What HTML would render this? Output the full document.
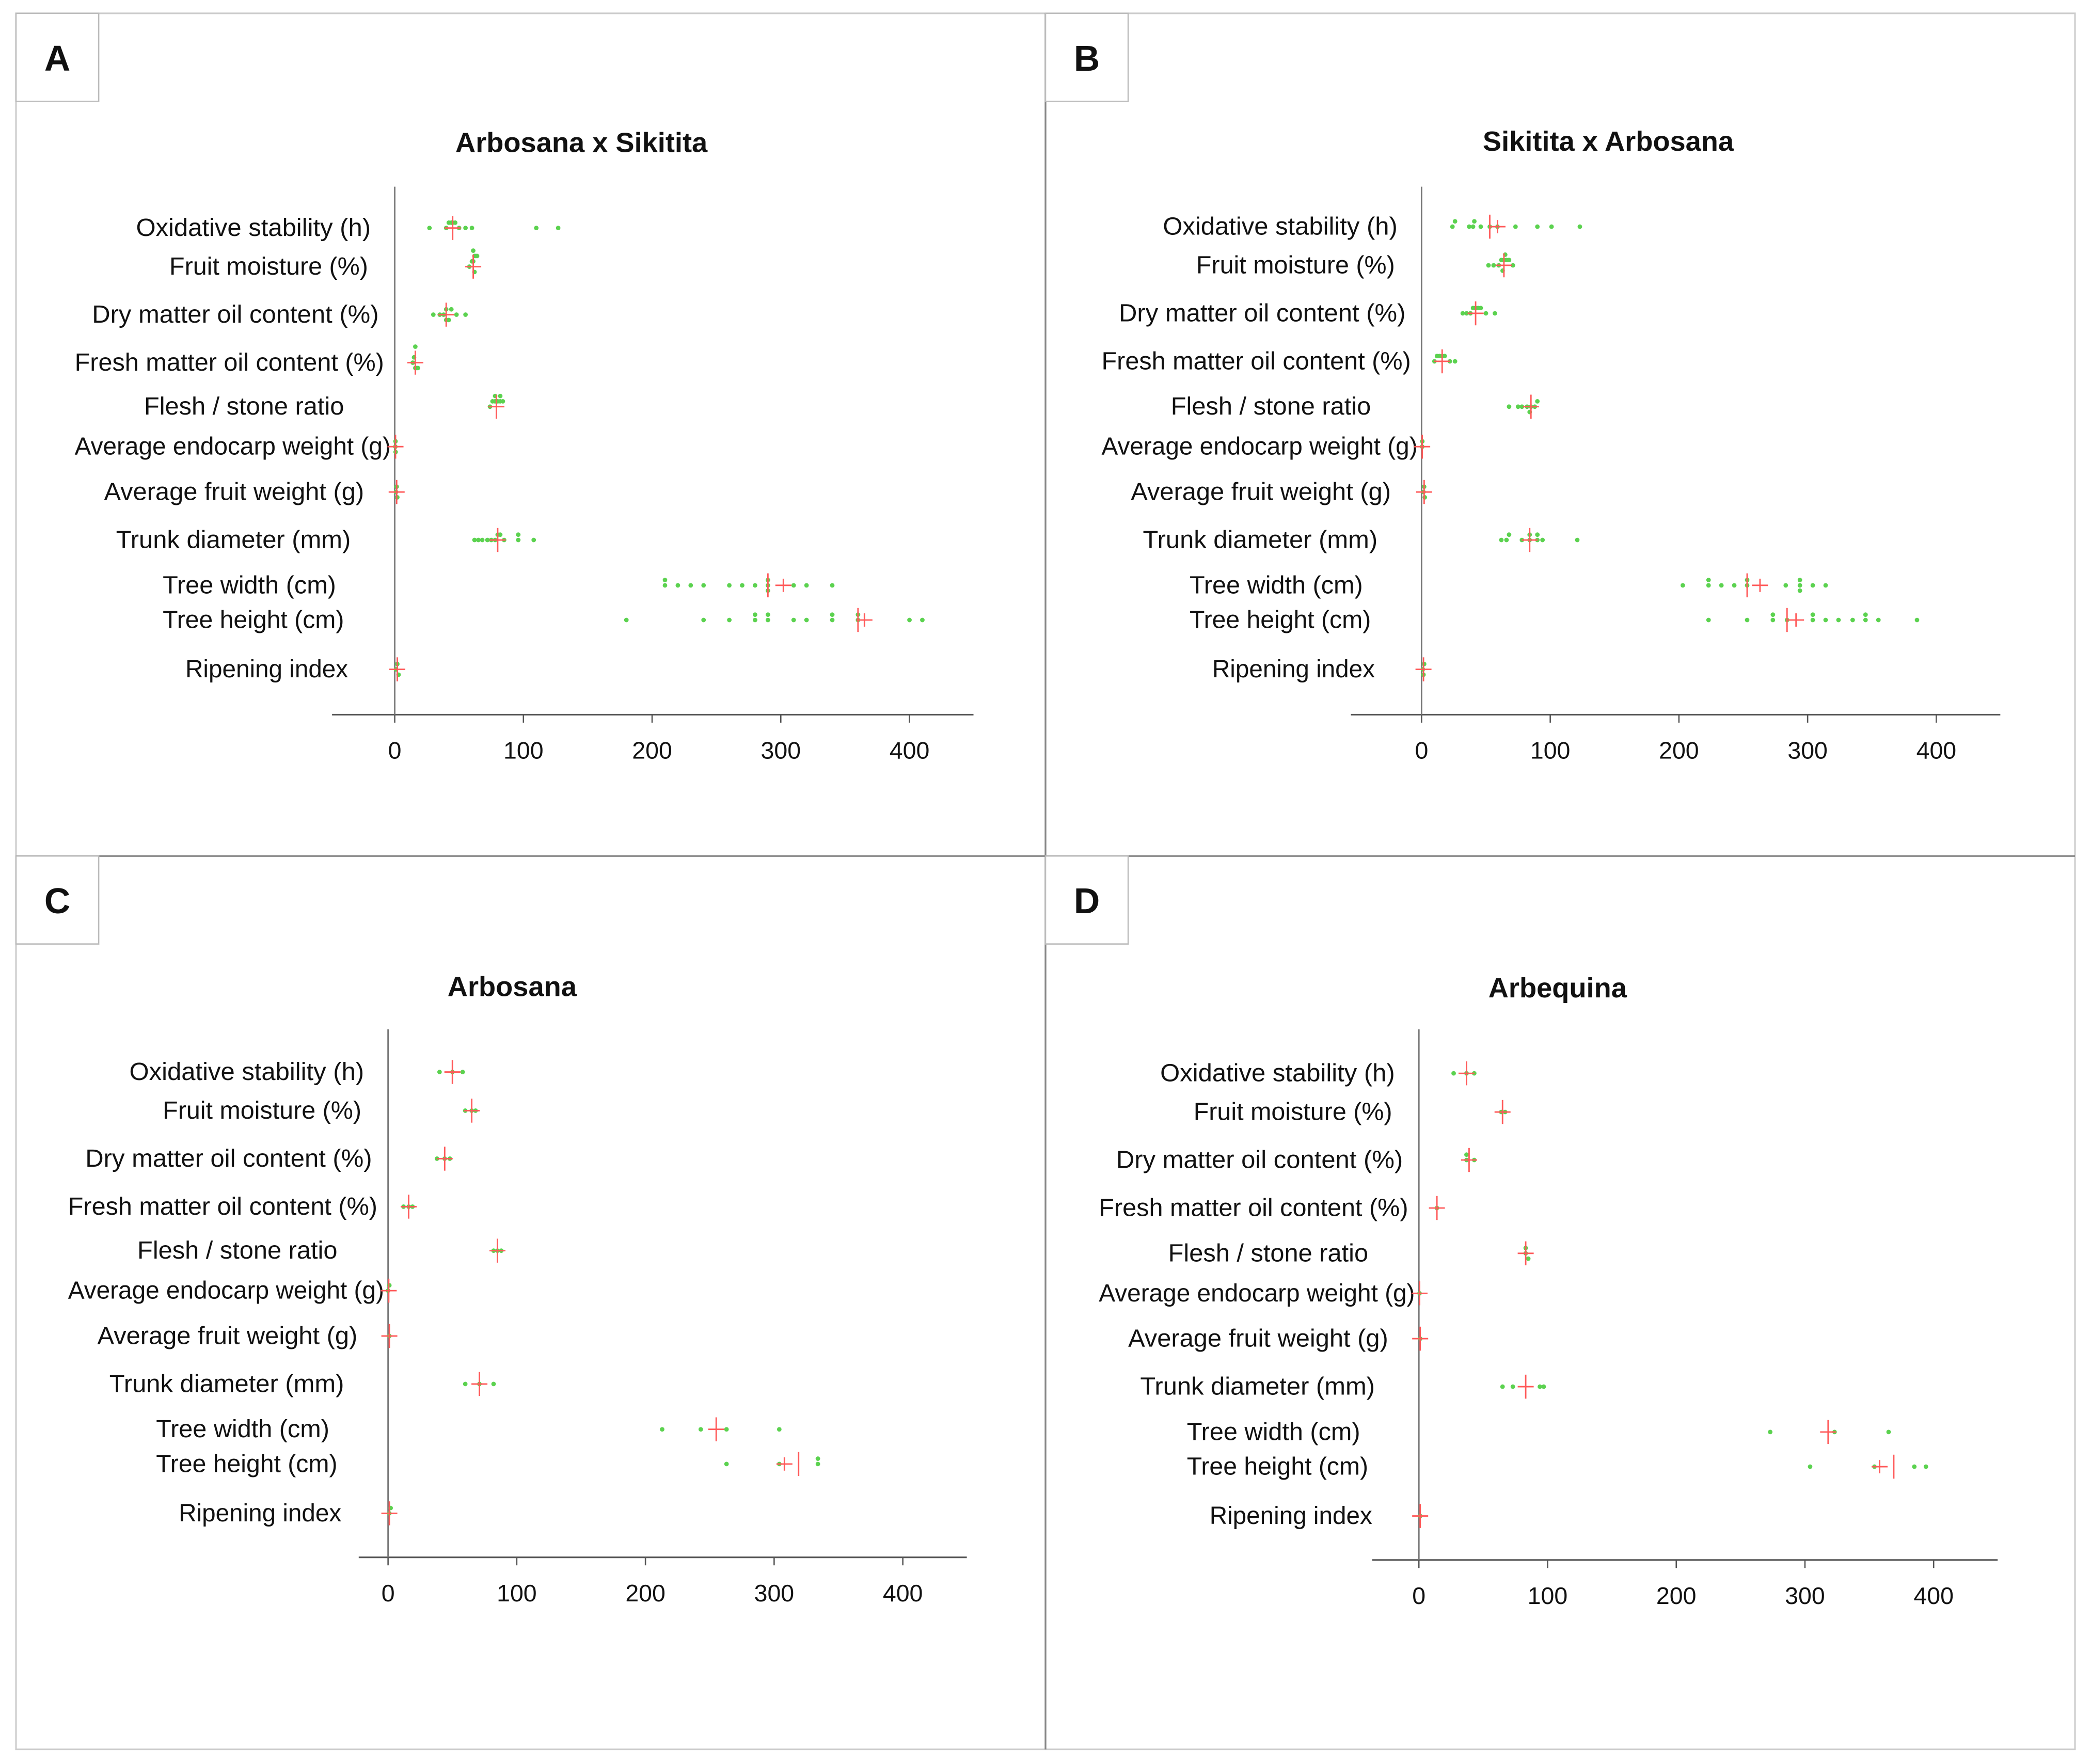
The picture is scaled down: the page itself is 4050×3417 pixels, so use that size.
<!DOCTYPE html>
<html><head><meta charset="utf-8"><style>
html,body{margin:0;padding:0;background:#fff;}
svg{display:block;}
text{font-family:"Liberation Sans",sans-serif;fill:#111;}
</style></head><body>
<svg id="fig" width="4050" height="3417" viewBox="0 0 1568 1323" preserveAspectRatio="none" xmlns="http://www.w3.org/2000/svg">
<rect x="0" y="0" width="1568" height="1323" fill="#fff"/>
<rect x="12" y="10" width="1544" height="1302" fill="none" stroke="#ccc" stroke-width="1.2"/>
<line x1="784" y1="10" x2="784" y2="1312" stroke="#888" stroke-width="1.3"/>
<line x1="12" y1="642" x2="1556" y2="642" stroke="#888" stroke-width="1.3"/>
<g id="plots"></g>
</svg>
<script>
// Category labels (shared)
const categories = ["Oxidative stability (h)","Fruit moisture (%)","Dry matter oil content (%)","Fresh matter oil content (%)","Flesh / stone ratio","Average endocarp weight (g)","Average fruit weight (g)","Trunk diameter (mm)","Tree width (cm)","Tree height (cm)","Ripening index"];
const tickValues = [0,100,200,300,400];
const panelTitles = ["Arbosana x Sikitita","Sikitita x Arbosana","Arbosana","Arbequina"];
const panelLetters = ["A","B","C","D"];

// Panel A values
const pointsA = [[27,40,42,44,45,47,50,55,60,110,127],[58,60,61,62,62,63,64,61],[30,35,38,40,40,42,44,48,55],[14,15,16,17,18,16],[74,76,78,80,82,84,78,82],[0.5,0.6,0.7],[1,1.5,2],[62,65,68,72,75,78,80,82,85,96,96,108],[210,210,220,230,240,260,270,280,290,290,290,310,320,340],[180,240,260,280,280,290,290,310,320,340,340,360,360,400,410],[1,2,3]];
const meansA = [45,61,40,16,79,0.6,1.5,80,302,365,2];
const mediansA = [null,null,null,null,null,null,null,null,290,360,null];
// Panel B values
const pointsB = [[24,26,37,40,41,46,53,59,73,90,101,123],[52,56,60,62,64,66,68,71,63,65],[32,35,38,40,42,44,46,50,57],[10,12,14,16,18,22,26],[68,75,78,82,85,88,90,84],[0.5,0.6],[1.5,2,2.5],[62,66,68,78,84,90,94,121,84,90],[203,223,223,233,243,253,253,283,294,294,294,304,314],[223,253,273,273,284,304,304,314,324,335,345,345,355,385],[1,2,1.5]];
const meansB = [59,64,42,16,85,0.5,2,84,263,291,1.5];
const mediansB = [53,null,null,null,null,null,null,null,253,284,null];
// Panel C values
const pointsC = [[40,50,58],[60,65,68],[38,44,48],[12,16,19],[82,85,88],[0,1],[1],[60,71,82],[213,243,263,304],[263,304,334,334],[1,2]];
const meansC = [50,65,44,16,85,0.5,1,71,255,308,1];
const mediansC = [null,null,null,null,null,null,null,null,null,319,null];
// Panel D values
const pointsD = [[27,37,43],[64,67],[37,37,43],[14],[83,83,85],[0.5],[1],[65,73,94,97],[273,323,365],[304,354,385,394],[1]];
const meansD = [37,65,39,14,83,0.5,1,83,318,358,1];
const mediansD = [null,null,null,null,null,null,null,null,null,369,null];

const NS = "http://www.w3.org/2000/svg";
const root = document.getElementById("plots");
function mk(tag, attrs, parent){const e=document.createElementNS(NS,tag);for(const k in attrs)e.setAttribute(k,attrs[k]);(parent||root).appendChild(e);return e;}

const UNIT = 386/400;
const panels = [
 {pts:pointsA,means:meansA,meds:mediansA,x0:296,axisY:536,axL:249,axR:730,vTop:140,rows:[171,200,236,272,305,335,369,405,439,465,502],titleX:436,titleY:114,box:[12,10],lblDx:0},
 {pts:pointsB,means:meansB,meds:mediansB,x0:1066,axisY:536,axL:1013,axR:1500,vTop:140,rows:[170,199,235,271,305,335,369,405,439,465,502],titleX:1206,titleY:113,box:[784,10],lblDx:770},
 {pts:pointsC,means:meansC,meds:mediansC,x0:291,axisY:1168,axL:269,axR:725,vTop:772,rows:[804,833,869,905,938,968,1002,1038,1072,1098,1135],titleX:384,titleY:747,box:[12,642],lblDx:-5},
 {pts:pointsD,means:meansD,meds:mediansD,x0:1064,axisY:1170,axL:1029,axR:1498,vTop:772,rows:[805,834,870,906,940,970,1004,1040,1074,1100,1137],titleX:1168,titleY:748,box:[784,642],lblDx:768}
];
const lblStart=[102,127,69,56,108,56,78,87,122,122,139];
const lblEnd=[278,276,284,288,258,293,273,263,252,258,261];

panels.forEach((p,pi)=>{
  const g=mk("g",{});
  
  
  const xs=v=>p.x0+v*UNIT;
  const bx=mk("rect",{x:p.box[0],y:p.box[1],width:62,height:66,fill:"#fff",stroke:"#bbb","stroke-width":1},g);
  
  
  const lt=mk("text",{x:p.box[0]+31,y:p.box[1]+43,"text-anchor":"middle","font-size":"27","font-weight":"bold"},g);
  lt.textContent=panelLetters[pi];
  
  
  const tt=mk("text",{x:p.titleX,y:p.titleY,"text-anchor":"middle","font-size":"21","font-weight":"bold"},g);
  tt.textContent=panelTitles[pi];
  
  
  const xa=mk("line",{x1:p.axL,y1:p.axisY,x2:p.axR,y2:p.axisY,stroke:"#555","stroke-width":1.2},g);
  
  
  const ya=mk("line",{x1:p.x0,y1:p.vTop,x2:p.x0,y2:p.axisY,stroke:"#777","stroke-width":1.1},g);
  
  
  tickValues.forEach(t=>{
    const tk=mk("line",{x1:xs(t),y1:p.axisY,x2:xs(t),y2:p.axisY+6,stroke:"#555","stroke-width":1},g);
    
    
    const tl=mk("text",{x:xs(t),y:p.axisY+33,"text-anchor":"middle","font-size":"18"},g);
    tl.textContent=String(t);
    
    
  });
  categories.forEach((c,i)=>{
    const y=p.rows[i];
    const s=lblStart[i]+p.lblDx, e=lblEnd[i]+p.lblDx;
    const lb=mk("text",{x:s,y:y+6,"font-size":"18.5",textLength:(e-s),lengthAdjust:"spacingAndGlyphs"},g);
    lb.textContent=c;
    
    
    const placed=[];
    p.pts[i].forEach(v=>{
      let k=placed.filter(q=>Math.abs(q-v)<3).length;
      placed.push(v);
      const off=(k===0?0:(k%2?-1:1)*Math.ceil(k/2)*4);
      const d=mk("circle",{cx:xs(v),cy:y+off,r:1.7,fill:"#5bd24f"},g);
      
      
    });
    const m=p.means[i];
    const h=mk("line",{x1:xs(m)-6,y1:y,x2:xs(m)+6,y2:y,stroke:"#ff5a5a","stroke-width":1.1},g);
    
    
    const mx=(p.meds[i]===null)?m:p.meds[i];
    const vline=mk("line",{x1:xs(mx),y1:y-9,x2:xs(mx),y2:y+9,stroke:"#ff5a5a","stroke-width":1.1},g);
    
    
    if(p.meds[i]!==null){
      const v2=mk("line",{x1:xs(m),y1:y-5,x2:xs(m),y2:y+5,stroke:"#ff5a5a","stroke-width":1.1},g);
      
      
    }
  });
});
</script>
</body></html>
